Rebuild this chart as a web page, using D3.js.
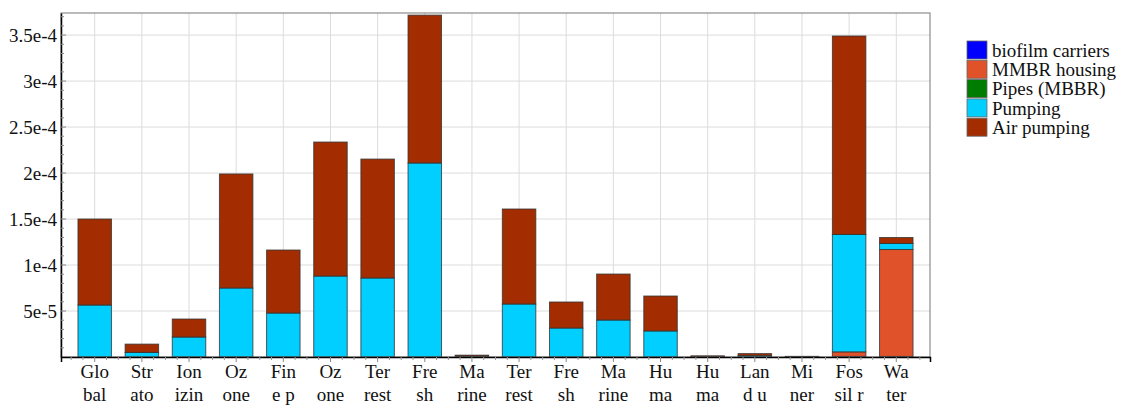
<!DOCTYPE html>
<html>
<head>
<meta charset="utf-8">
<script src="https://cdn.jsdelivr.net/npm/d3@7/dist/d3.min.js"></script>
<style>
  body { margin: 0; background: #fff; }
</style>
</head>
<body>
<div id="chart"></div>
<script>
// category labels, already split in two lines like the original
const labelTop = ['Glo', 'Str', 'Ion', 'Oz', 'Fin', 'Oz', 'Ter', 'Fre', 'Ma', 'Ter', 'Fre', 'Ma', 'Hu', 'Hu', 'Lan', 'Mi', 'Fos', 'Wa'];
const labelBottom = ['bal', 'ato', 'izin', 'one', 'e p', 'one', 'rest', 'sh', 'rine', 'rest', 'sh', 'rine', 'ma', 'ma', 'd u', 'ner', 'sil r', 'ter'];

// series values (stack order bottom -> top follows stackKeys)
const biofilm = [0, 0, 0, 0, 0, 0, 0, 0, 0, 0, 0, 0, 0, 0, 0, 0, 0, 0];
const housing = [0, 0, 0, 0, 0, 0, 0, 0, 0, 0, 0, 0, 0, 0.3e-6, 0, 0.2e-6, 5.0e-6, 116.3e-6];
const pipes   = [0, 0, 0, 0, 0, 0, 0, 0, 0, 0, 0, 0, 0, 0, 0, 0, 0.6e-6, 0.6e-6];
const pumping = [56.5e-6, 5.0e-6, 21.7e-6, 75.0e-6, 47.8e-6, 88.0e-6, 85.9e-6, 210.9e-6, 0.8e-6, 57.6e-6, 31.5e-6, 40.2e-6, 28.3e-6, 0, 1.5e-6, 0, 127.6e-6, 6.5e-6];
const airPumping = [93.5e-6, 9.0e-6, 19.6e-6, 124.0e-6, 68.5e-6, 145.7e-6, 129.3e-6, 160.8e-6, 1.2e-6, 103.3e-6, 28.3e-6, 50.0e-6, 38.0e-6, 1.0e-6, 2.2e-6, 0.5e-6, 215.8e-6, 6.5e-6];

const legendNames = ['biofilm carriers', 'MMBR housing', 'Pipes (MBBR)', 'Pumping', 'Air pumping'];
const legendColors = ['#0000ff', '#e05229', '#007d00', '#00cfff', '#a32d00'];
const yTicks = [5e-5, 1e-4, 1.5e-4, 2e-4, 2.5e-4, 3e-4, 3.5e-4];

const seriesByName = {
    'biofilm carriers': biofilm,
    'MMBR housing': housing,
    'Pipes (MBBR)': pipes,
    'Pumping': pumping,
    'Air pumping': airPumping
};
const stackKeys = ['biofilm carriers', 'Pipes (MBBR)', 'MMBR housing', 'Pumping', 'Air pumping'];

const FONT = '"Liberation Serif", "Times New Roman", Times, "DejaVu Serif", serif';
const width = 1122, height = 405;
const margin = {top: 13, right: 192, bottom: 48, left: 61};

const rows = labelTop.map((t, i) => {
    let r = {i: i};
    for (let k of stackKeys) r[k] = seriesByName[k][i];
    return r;
});

const svg = d3.select('#chart').append('svg')
    .attr('width', width)
    .attr('height', height)
    .style('font-family', FONT);

const x = d3.scaleBand()
    .domain(d3.range(labelTop.length))
    .range([margin.left, width - margin.right])
    .paddingInner(0.29)
    .paddingOuter(0.36);

const y = d3.scaleLinear()
    .domain([0, 3.74e-4])
    .range([height - margin.bottom, margin.top]);

const color = d3.scaleOrdinal().domain(legendNames).range(legendColors);

function fmtSci(v) {
    let e = Math.floor(Math.log10(v) + 1e-9);
    let m = v / Math.pow(10, e);
    return `${+m.toFixed(2)}e${e}`;
}

// grid
const grid = svg.append('g');
grid.selectAll('.hgrid')
    .data(yTicks)
    .join('line')
    .attr('x1', margin.left).attr('x2', width - margin.right)
    .attr('y1', d => y(d)).attr('y2', d => y(d))
    .attr('stroke', '#dcdcdc').attr('stroke-width', 1);
grid.selectAll('.vgrid')
    .data(d3.range(labelTop.length))
    .join('line')
    .attr('x1', d => x(d) + x.bandwidth() / 2).attr('x2', d => x(d) + x.bandwidth() / 2)
    .attr('y1', margin.top).attr('y2', height - margin.bottom)
    .attr('stroke', '#dcdcdc').attr('stroke-width', 1);

// bars
const stacked = d3.stack().keys(stackKeys)(rows);
svg.append('g')
    .selectAll('g')
    .data(stacked)
    .join('g')
    .attr('fill', d => color(d.key))
    .selectAll('rect')
    .data(d => d.filter(s => s[1] - s[0] > 0))
    .join('rect')
    .attr('x', d => x(d.data.i))
    .attr('width', x.bandwidth())
    .attr('y', d => y(d[1]))
    .attr('height', d => y(d[0]) - y(d[1]))
    .attr('stroke', '#333')
    .attr('stroke-opacity', 0.8)
    .attr('stroke-width', 1);

// frame
svg.append('rect')
    .attr('x', margin.left).attr('y', margin.top)
    .attr('width', width - margin.left - margin.right)
    .attr('height', height - margin.top - margin.bottom)
    .attr('fill', 'none')
    .attr('stroke', '#777');

// y axis
const yAxis = svg.append('g')
    .attr('transform', `translate(${margin.left},0)`)
    .call(d3.axisLeft(y).tickValues(yTicks).tickFormat(fmtSci).tickSize(0).tickPadding(4));
yAxis.attr('font-family', null).attr('font-size', null);
yAxis.select('.domain').attr('stroke', '#000').attr('stroke-width', 1.5);
yAxis.selectAll('text')
    .style('font-size', '19px')
    .style('font-family', FONT)
    .attr('fill', '#111');
svg.append('g')
    .selectAll('line')
    .data(d3.range(1, 38).map(k => k * 1e-5))
    .join('line')
    .attr('x1', margin.left).attr('x2', d => margin.left + (Math.round(d * 1e5) % 5 === 0 ? 5 : 3))
    .attr('y1', d => y(d)).attr('y2', d => y(d))
    .attr('stroke', '#888');

// x axis
const xAxis = svg.append('g')
    .attr('transform', `translate(0,${height - margin.bottom})`)
    .call(d3.axisBottom(x).tickFormat('').tickSize(5));
xAxis.select('.domain').attr('stroke', '#000').attr('stroke-width', 1.5);
xAxis.selectAll('.tick line').attr('stroke', '#888');
const step = x.step();
const x0 = x(0) + x.bandwidth() / 2;
svg.append('g')
    .selectAll('line')
    .data(d3.range(-2, labelTop.length * 4 + 2)
        .filter(k => k % 4 !== 0)
        .filter(k => x0 + k * step / 4 > margin.left && x0 + k * step / 4 < width - margin.right))
    .join('line')
    .attr('x1', k => x0 + k * step / 4)
    .attr('x2', k => x0 + k * step / 4)
    .attr('y1', height - margin.bottom).attr('y2', height - margin.bottom + 3)
    .attr('stroke', '#999');

const xl = svg.append('g')
    .style('font-size', '19px')
    .attr('fill', '#111');
xl.selectAll('.l1')
    .data(labelTop)
    .join('text')
    .attr('x', (d, i) => x(i) + x.bandwidth() / 2)
    .attr('y', 378)
    .attr('text-anchor', 'middle')
    .text(d => d);
xl.selectAll('.l2')
    .data(labelBottom)
    .join('text')
    .attr('x', (d, i) => x(i) + x.bandwidth() / 2)
    .attr('y', 401)
    .attr('text-anchor', 'middle')
    .text(d => d);

// legend
const legend = svg.append('g').attr('transform', 'translate(967,41)');
const item = legend.selectAll('g')
    .data(legendNames)
    .join('g')
    .attr('transform', (d, i) => `translate(0,${i * 19.3})`);
item.append('rect')
    .attr('width', 20).attr('height', 18)
    .attr('fill', d => color(d))
    .attr('stroke', '#666').attr('stroke-width', 0.8);
item.append('text')
    .attr('x', 25).attr('y', 9)
    .attr('dy', '0.35em')
    .style('font-size', '19px')
    .attr('fill', '#111')
    .text(d => d);
</script>
</body>
</html>
